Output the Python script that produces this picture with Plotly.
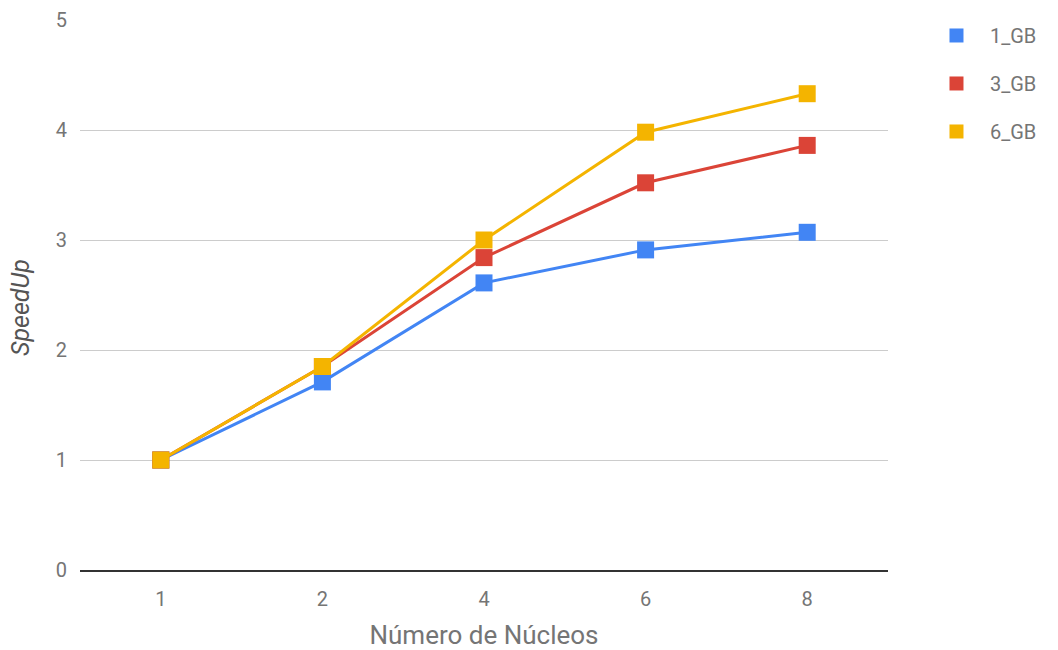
import plotly.graph_objects as go

# Speed-up per core count for each input size
cores = ["1", "2", "4", "6", "8"]
speedup_1gb = [1.0, 1.71, 2.61, 2.91, 3.07]
speedup_3gb = [1.0, 1.85, 2.84, 3.52, 3.86]
speedup_6gb = [1.0, 1.85, 3.00, 3.98, 4.33]
series_names = ["1_GB", "3_GB", "6_GB"]
y_ticks = [0, 1, 2, 3, 4, 5]

colors = ["#4285F4", "#DB4437", "#F4B400"]
series = [speedup_1gb, speedup_3gb, speedup_6gb]

fig = go.Figure()
for name, vals, col in zip(series_names, series, colors):
    fig.add_trace(go.Scatter(
        x=cores, y=vals, mode="lines+markers", name=name,
        line=dict(color=col, width=3),
        marker=dict(symbol="square", size=17, color=col),
        showlegend=False,
    ))

# legend entries shown as plain squares
for name, col in zip(series_names, colors):
    fig.add_trace(go.Scatter(
        x=[None], y=[None], mode="markers", name=name,
        marker=dict(symbol="square", size=14, color=col),
        legendgroup=name, showlegend=True,
    ))

grey = "#757575"
fig.update_layout(
    width=1058, height=650,
    margin=dict(l=80, r=170, t=20, b=80, autoexpand=False),
    paper_bgcolor="white", plot_bgcolor="white",
    font=dict(family="Roboto", size=20, color=grey),
    legend=dict(
        x=1.0433, y=1.0073, xanchor="left", yanchor="top",
        font=dict(size=20, color=grey),
        traceorder="grouped", tracegroupgap=19, itemwidth=57,
        bgcolor="rgba(0,0,0,0)",
    ),
    xaxis=dict(
        type="category", range=[-0.5, 4.5], automargin=False,
        showgrid=False, zeroline=False, showline=True,
        linecolor="#333333", linewidth=2,
        ticks="", tickfont=dict(size=20, color=grey), ticklabelstandoff=10,
        title=dict(text="Número de Núcleos", font=dict(size=26, color=grey), standoff=16),
    ),
    yaxis=dict(
        range=[0, 5], tickvals=y_ticks, automargin=False,
        showgrid=True, gridcolor="#cccccc", gridwidth=1,
        zeroline=False, showline=False,
        ticks="", tickfont=dict(size=20, color=grey), ticklabelstandoff=12,
    ),
    annotations=[dict(
        text="<i>SpeedUp</i>", textangle=-90,
        xref="paper", yref="paper", x=-60 / 808, y=(570 - 308) / 550,
        xanchor="center", yanchor="middle", showarrow=False,
        font=dict(size=25, color="#555555"),
    )],
)

fig.write_html("out.html")
